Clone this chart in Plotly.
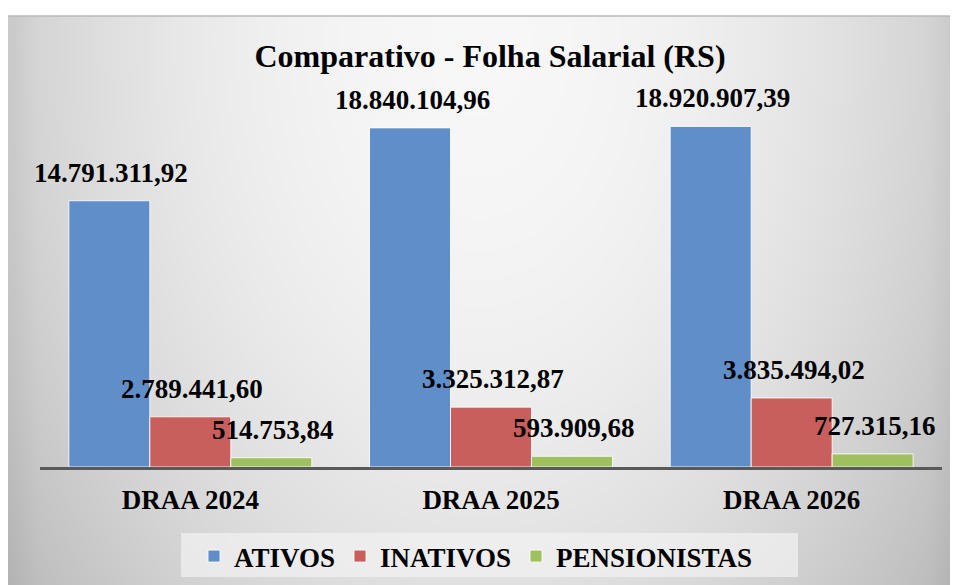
import base64
import struct
import zlib

import plotly.graph_objects as go

# ---------------- data ----------------
categories = ["DRAA 2024", "DRAA 2025", "DRAA 2026"]
series_names = ["ATIVOS", "INATIVOS", "PENSIONISTAS"]
ativos = [14791311.92, 18840104.96, 18920907.39]
inativos = [2789441.60, 3325312.87, 3835494.02]
pensionistas = [514753.84, 593909.68, 727315.16]
title_text = "Comparativo - Folha Salarial (RS)"

series_values = [ativos, inativos, pensionistas]
colors = ["#5f8ec8", "#c95f5c", "#9fc05f"]

FONT = "Liberation Serif"
OFF = 8  # page body margin offset
W, H = 958 - OFF, 585 - OFF


def X(px):
    return px - OFF


def Y(py):
    return py - OFF


ML, MR = X(40), 958 - 942
MT, MB = Y(89), 585 - 467
PLOT_W = W - ML - MR
PLOT_H = H - MT - MB


def px_to_paper_x(px):
    return (X(px) - ML) / PLOT_W


def px_to_paper_y(py):
    return (H - MB - Y(py)) / PLOT_H


def fmt_br(v):
    s = f"{v:,.2f}"
    return s.replace(",", "X").replace(".", ",").replace("X", ".")


def gradient_png(w, h):
    rows = bytearray()
    for j in range(h):
        rows.append(0)
        py = 16 + (j + 0.5) / h * (585 - 16)
        v = (py - 40) / 560.0
        for i in range(w):
            px = 8 + (i + 0.5) / w * (958 - 8)
            u = (px - 480) / 480.0
            g = 247 - 40 * u * u - 24 * v * v
            edge = min(px - 8, 958 - px)
            if edge < 30:
                g -= (30 - edge) * 0.25
            g = max(0, min(255, int(round(g))))
            rows.append(g)

    def chunk(t, d):
        c = struct.pack(">I", len(d)) + t + d
        return c + struct.pack(">I", zlib.crc32(t + d) & 0xFFFFFFFF)

    png = b"\x89PNG\r\n\x1a\n"
    png += chunk(b"IHDR", struct.pack(">IIBBBBB", w, h, 8, 0, 0, 0, 0))
    png += chunk(b"IDAT", zlib.compress(bytes(rows), 9))
    png += chunk(b"IEND", b"")
    return "data:image/png;base64," + base64.b64encode(png).decode()


bg_src = gradient_png(240, 144)

fig = go.Figure()
for name, vals, col in zip(series_names, series_values, colors):
    fig.add_trace(
        go.Bar(
            x=categories,
            y=vals,
            name=name,
            marker=dict(color=col, line=dict(color="rgba(255,255,255,0.85)", width=1)),
            hoverinfo="skip",
        )
    )

bargap = 0.192
cat_px = PLOT_W / len(categories)
bar_px = cat_px * (1 - bargap) / len(series_names)

annotations = []
for k, vals in enumerate(series_values):
    for c, v in zip(categories, vals):
        annotations.append(
            dict(
                x=c, y=v, xref="x", yref="y",
                text=fmt_br(v),
                showarrow=False,
                xshift=(k - 1) * bar_px + 2,
                yshift=28,
                yanchor="middle",
                xanchor="center",
                font=dict(family=FONT, size=27, color="#000000", weight="bold"),
            )
        )

fig.update_layout(
    width=W, height=H,
    margin=dict(l=ML, r=MR, t=MT, b=MB, pad=0, autoexpand=False),
    paper_bgcolor="#ffffff",
    plot_bgcolor="rgba(0,0,0,0)",
    barmode="group", bargap=bargap, bargroupgap=0,
    showlegend=True,
    title=dict(
        text=title_text,
        x=X(490) / W, xref="container", xanchor="center",
        y=1 - Y(56) / H, yref="container", yanchor="middle",
        font=dict(family=FONT, size=32, color="#000000", weight="bold"),
    ),
    xaxis=dict(
        range=[-0.5, len(categories) - 0.5],
        showline=True, linecolor="#595959", linewidth=2.5,
        showgrid=False, zeroline=False,
        ticks="outside", ticklen=7, tickcolor="rgba(0,0,0,0)",
        tickfont=dict(family=FONT, size=27, color="#000000", weight="bold"),
        fixedrange=True, automargin=False,
    ),
    yaxis=dict(range=[0, 21000000], visible=False, fixedrange=True, automargin=False),
    legend=dict(
        orientation="h", xref="container", yref="container",
        x=X(476) / W, xanchor="center",
        y=1 - Y(532) / H, yanchor="top",
        bgcolor="rgba(0,0,0,0)",
        font=dict(family=FONT, size=27, color="#000000", weight="bold"),
        traceorder="normal",
    ),
    annotations=annotations,
    images=[dict(
        source=bg_src, xref="paper", yref="paper",
        x=px_to_paper_x(8), y=px_to_paper_y(16),
        sizex=(958 - 8) / PLOT_W, sizey=(585 - 16) / PLOT_H,
        xanchor="left", yanchor="top", sizing="stretch", layer="below",
    )],
    shapes=[
        dict(
            type="line", xref="paper", yref="paper",
            x0=px_to_paper_x(8), x1=px_to_paper_x(958),
            y0=px_to_paper_y(16), y1=px_to_paper_y(16),
            line=dict(color="#b8b8b8", width=1.5), layer="below",
        ),
        dict(
            type="rect", xref="paper", yref="paper",
            x0=px_to_paper_x(181), x1=px_to_paper_x(798),
            y0=px_to_paper_y(533), y1=px_to_paper_y(577),
            fillcolor="rgba(242,242,242,0.7)", line=dict(width=0), layer="below",
        ),
    ],
)

fig.write_html("out.html", include_plotlyjs=True, config={"displayModeBar": False})
